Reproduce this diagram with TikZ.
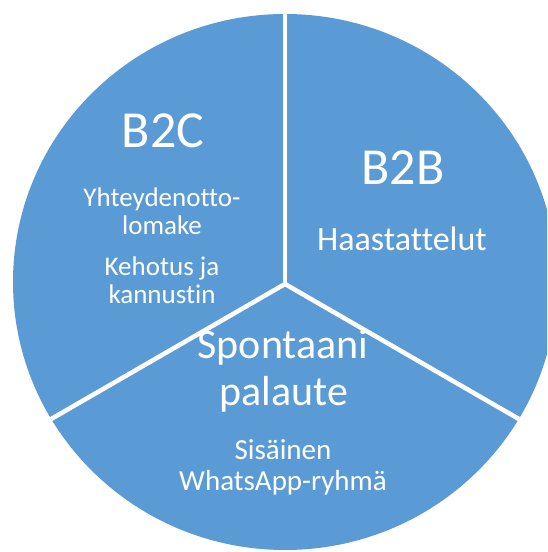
\documentclass[tikz,border=0pt]{standalone}
\usepackage{fontspec}
\setmainfont[Ligatures=CommonOff]{Carlito}
\definecolor{pieblue}{HTML}{5B9BD5}
\begin{document}
\begin{tikzpicture}[x=1pt,y=1pt,
  bigtxt/.style={text=white,anchor=base,inner sep=0pt,font=\fontsize{52}{52}\selectfont},
  midtxt/.style={text=white,anchor=base,inner sep=0pt,font=\fontsize{42}{42}\selectfont},
  smalltxt/.style={text=white,anchor=base,inner sep=0pt,font=\fontsize{27}{28}\selectfont},
  divider/.style={white,line width=4.5pt}]
\useasboundingbox (0,0) rectangle (547,552);
% pie disc, clipped to the page
\begin{scope}
  \clip (0,0) rectangle (547,552);
  \fill[pieblue] (285,270) ellipse [x radius=272, y radius=268];
\end{scope}
\coordinate (hub) at (285,268);
% sector dividers
\begin{scope}
  \clip (285,270) ellipse [x radius=272, y radius=268];
  \draw[divider] (hub) -- ++(90:400) coordinate (ntop);
  \draw[divider] (hub) -- ++(210:400) coordinate (nleft);
  \draw[divider] (hub) -- ++(330:400) coordinate (nright);
\end{scope}
% labels
\node[bigtxt] (b2c) at (163,404) {B2C};
\node[smalltxt] (yht) at (162,345) {Yhteydenotto-};
\node[smalltxt] (lom) at (162,317) {lomake};
\node[smalltxt] (keh) at (162,276) {Kehotus ja};
\node[smalltxt] (kan) at (162,248) {kannustin};
\node[bigtxt] (b2b) at (403,367) {B2B};
\node[smalltxt,font=\fontsize{34}{35}\selectfont] (haa) at (402,301) {Haastattelut};
\node[midtxt] (spo) at (283,193) {Spontaani};
\node[midtxt] (pal) at (284,146) {palaute};
\node[smalltxt,font=\fontsize{29}{30}\selectfont] (sis) at (283,92) {Sisäinen};
\node[smalltxt,font=\fontsize{29}{30}\selectfont] (wha) at (283,61) {WhatsApp-ryhmä};
\end{tikzpicture}
\end{document}
